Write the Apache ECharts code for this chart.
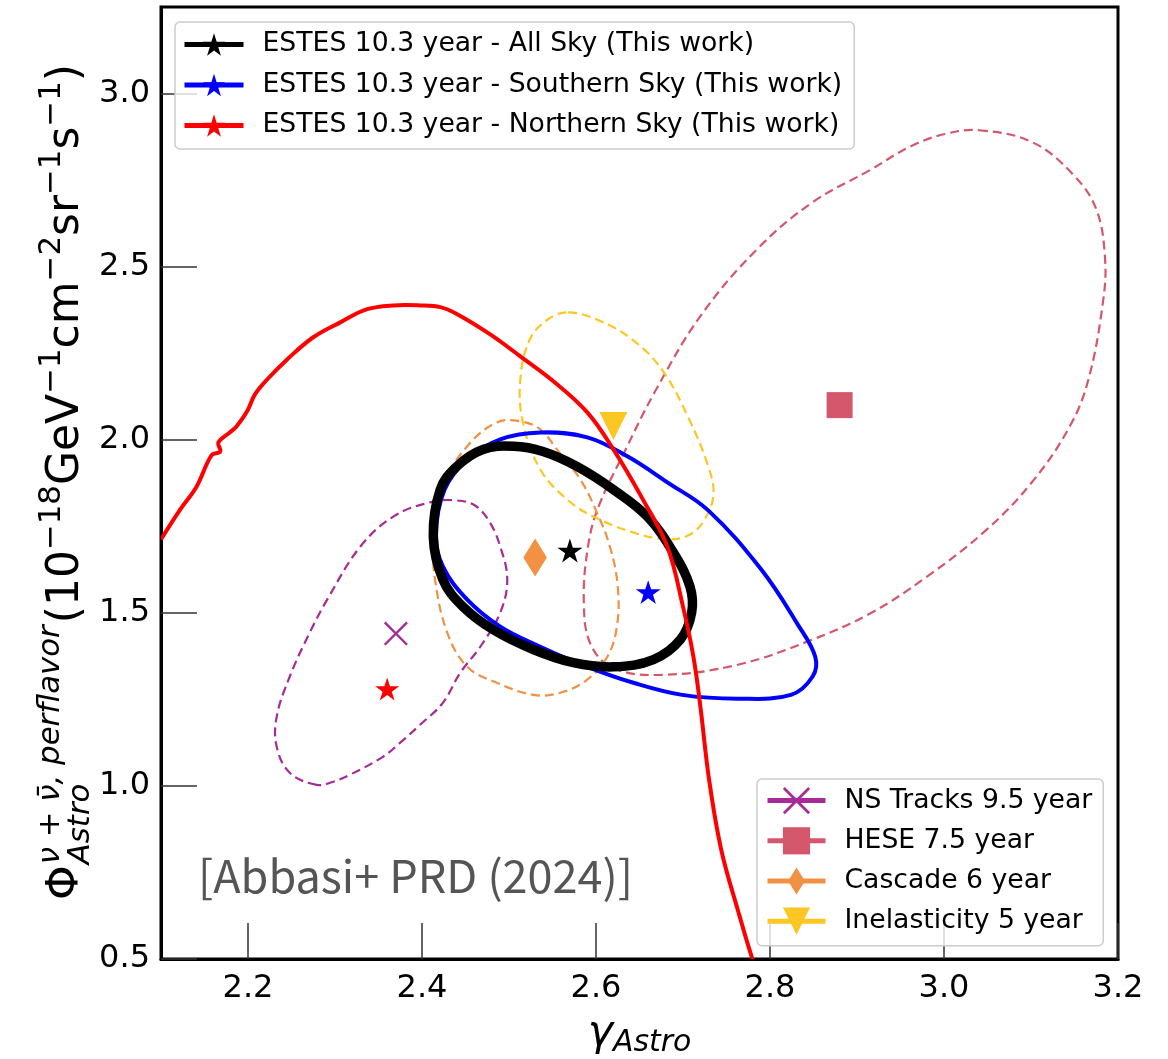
<!DOCTYPE html>
<html><head><meta charset="utf-8">
<script src="https://cdn.jsdelivr.net/npm/echarts@6/dist/echarts.min.js"></script>
<style>html,body{margin:0;padding:0;background:#fff}#c{width:1168px;height:1059px}</style>
</head><body><div id="c"></div>
<script>
// ---------- data ----------
const xTicks = [2.2, 2.4, 2.6, 2.8, 3.0, 3.2];
const yTicks = [0.5, 1.0, 1.5, 2.0, 2.5, 3.0];

const nameAll = 'ESTES 10.3 year - All Sky (This work)';
const nameSouth = 'ESTES 10.3 year - Southern Sky (This work)';
const nameNorth = 'ESTES 10.3 year - Northern Sky (This work)';
const nameNS = 'NS Tracks 9.5 year';
const nameHESE = 'HESE 7.5 year';
const nameCascade = 'Cascade 6 year';
const nameInel = 'Inelasticity 5 year';

const allSkyContour = [[2.413,1.720],[2.421,1.856],[2.440,1.923],[2.470,1.972],[2.505,1.981],[2.539,1.966],[2.578,1.923],[2.620,1.856],[2.659,1.778],[2.689,1.674],[2.708,1.576],[2.710,1.501],[2.697,1.423],[2.666,1.365],[2.620,1.344],[2.574,1.356],[2.528,1.394],[2.482,1.451],[2.447,1.518],[2.424,1.596]];
const southernContour = [[2.416,1.726],[2.426,1.856],[2.452,1.943],[2.490,2.001],[2.536,2.021],[2.590,2.007],[2.636,1.952],[2.682,1.877],[2.729,1.796],[2.790,1.625],[2.832,1.466],[2.852,1.373],[2.849,1.316],[2.824,1.263],[2.763,1.252],[2.699,1.263],[2.643,1.298],[2.590,1.344],[2.536,1.402],[2.490,1.460],[2.452,1.538],[2.424,1.634]];
const northernCurve = [[2.100,1.712],[2.122,1.798],[2.141,1.865],[2.158,1.955],[2.168,1.966],[2.166,1.992],[2.179,2.021],[2.187,2.039],[2.199,2.082],[2.208,2.131],[2.222,2.174],[2.245,2.232],[2.275,2.296],[2.306,2.339],[2.337,2.377],[2.367,2.388],[2.398,2.388],[2.421,2.383],[2.441,2.362],[2.478,2.305],[2.513,2.241],[2.551,2.169],[2.590,2.079],[2.620,1.972],[2.654,1.827],[2.682,1.691],[2.700,1.518],[2.712,1.373],[2.720,1.229],[2.730,1.018],[2.744,0.815],[2.764,0.633],[2.779,0.506],[2.783,0.483]];
const nsContour = [[2.279,1.003],[2.248,1.038],[2.233,1.113],[2.233,1.200],[2.248,1.316],[2.271,1.443],[2.291,1.538],[2.329,1.691],[2.367,1.778],[2.409,1.819],[2.438,1.825],[2.461,1.810],[2.478,1.761],[2.490,1.691],[2.498,1.596],[2.490,1.501],[2.467,1.402],[2.444,1.327],[2.424,1.240],[2.398,1.177],[2.375,1.125],[2.355,1.084],[2.317,1.032],[2.298,1.012]];
const cascadeContour = [[2.413,1.712],[2.421,1.856],[2.452,1.981],[2.486,2.050],[2.513,2.053],[2.536,2.030],[2.555,1.972],[2.582,1.885],[2.601,1.790],[2.616,1.691],[2.625,1.576],[2.624,1.460],[2.613,1.373],[2.590,1.307],[2.559,1.269],[2.528,1.263],[2.486,1.298],[2.452,1.344],[2.429,1.443],[2.415,1.596]];
const inelContour = [[2.568,2.368],[2.603,2.345],[2.643,2.287],[2.677,2.198],[2.707,2.059],[2.729,1.923],[2.735,1.842],[2.725,1.770],[2.708,1.726],[2.682,1.712],[2.643,1.732],[2.597,1.778],[2.567,1.827],[2.536,1.914],[2.516,2.050],[2.513,2.174],[2.524,2.290],[2.545,2.348]];
const heseContour = [[3.040,2.894],[3.101,2.860],[3.148,2.767],[3.175,2.666],[3.185,2.527],[3.183,2.403],[3.166,2.174],[3.144,2.036],[3.101,1.877],[3.048,1.738],[2.979,1.602],[2.915,1.498],[2.846,1.420],[2.763,1.350],[2.677,1.321],[2.621,1.339],[2.594,1.408],[2.586,1.532],[2.591,1.694],[2.603,1.807],[2.633,1.966],[2.668,2.140],[2.720,2.357],[2.785,2.550],[2.849,2.686],[2.915,2.779],[2.962,2.848],[3.001,2.883]];

const allSkyBest = [2.57, 1.68];
const southernBest = [2.66, 1.56];
const northernBest = [2.36, 1.28];
const nsBest = [2.37, 1.44];
const heseBest = [2.88, 2.10];
const cascadeBest = [2.53, 1.66];
const inelBest = [2.62, 2.04];

// ---------- styling ----------
const STAR = 'path://M0,-1L0.2245,-0.309L0.9511,-0.309L0.3633,0.118L0.5878,0.809L0,0.382L-0.5878,0.809L-0.3633,0.118L-0.9511,-0.309L-0.2245,-0.309Z';
const XMARK = 'path://M-1,-0.86L-0.86,-1L1,0.86L0.86,1Z M0.86,-1L1,-0.86L-0.86,1L-1,0.86Z';
const TRI_DOWN = 'path://M-1,-1L1,-1L0,1Z';
const THIN_DIAMOND = 'path://M0,-1L0.62,0L0,1L-0.62,0Z M-1,0L-1,0.001L-0.999,0Z M1,0L1,0.001L0.999,0Z';

const C_NS = '#a62a97', C_HESE = '#d5576b', C_CAS = '#f29044', C_INEL = '#fcc722';

// contour drawn as one smooth path through the axis scales (api.coord)
function contour(name, data, color, width, dash, loop, z) {
  return { type: 'custom', name: name, data: data, z: z, silent: true, animation: false, clip: true,
    encode: { x: 0, y: 1 },
    renderItem: function (params, api) {
      if (params.dataIndex !== 0) return null;
      const pts = data.map(p => api.coord(p));
      return { type: loop ? 'polygon' : 'polyline',
        shape: { points: pts, smooth: 0.38 },
        style: { fill: loop ? 'none' : null, stroke: color, lineWidth: width, lineDash: dash, lineJoin: 'round' } };
    } };
}
// best-fit marker (a one-point line series so the legend shows line + marker)
function point(name, p, color, symbol, size) {
  return { type: 'line', name: name, data: [p], symbol: symbol, symbolSize: size, symbolKeepAspect: true,
    showSymbol: true, color: color, itemStyle: { color: color, opacity: 1 },
    lineStyle: { color: color, width: 5 }, z: 6, silent: true, animation: false };
}

const series = [
  point(nameAll, allSkyBest, '#000000', STAR, 25),
  point(nameSouth, southernBest, '#0000ff', STAR, 25),
  point(nameNorth, northernBest, '#ff0000', STAR, 24),
  point(nameNS, nsBest, C_NS, XMARK, 24),
  point(nameHESE, heseBest, C_HESE, 'rect', 26),
  point(nameCascade, cascadeBest, C_CAS, THIN_DIAMOND, 38),
  point(nameInel, inelBest, C_INEL, TRI_DOWN, 28),
  contour(nameNS, nsContour, C_NS, 2.2, [9, 5], true, 2),
  contour(nameHESE, heseContour, C_HESE, 2.2, [9, 5], true, 2),
  contour(nameCascade, cascadeContour, C_CAS, 2.2, [9, 5], true, 2),
  contour(nameInel, inelContour, C_INEL, 2.2, [9, 5], true, 2),
  contour(nameSouth, southernContour, '#0000ff', 4, null, true, 3),
  contour(nameAll, allSkyContour, '#000000', 9.5, null, true, 3),
  contour(nameNorth, northernCurve, '#ff0000', 4, null, false, 3)
];

// ---------- axis titles built from measured text pieces ----------
const mctx = document.createElement('canvas').getContext('2d');
function textW(t, size, italic) { mctx.font = (italic ? 'italic ' : '') + size + 'px "DejaVu Sans"'; return mctx.measureText(t).width; }
const KB = 0.33;
function tEl(t, x, baseline, size, italic) {
  return { type: 'text', x: x, y: baseline - KB * size, silent: true,
    style: { text: t, fontSize: size, fontFamily: 'DejaVu Sans', fontStyle: italic ? 'italic' : 'normal', fill: '#000',
      textAlign: 'left', textVerticalAlign: 'middle', align: 'left', verticalAlign: 'middle' } };
}
const FY = 44, SY = FY * 0.7;
const yParts = [];
let cx = 0;
yParts.push(tEl('Φ', cx, 0, FY, false)); cx += textW('Φ', FY, false) + 1;
const supT = 'ν + ν̄, perflavor', subT = 'Astro';
yParts.push(tEl(supT, cx, -0.44 * FY, SY, true));
yParts.push(tEl(subT, cx, 0.22 * FY, SY, true));
cx += Math.max(textW(supT, SY, true), textW(subT, SY, true)) + 2;
const seq = [['(10', 'n'], ['−18', 's'], ['GeV', 'n'], ['−1', 's'], ['cm', 'n'], ['−2', 's'], ['sr', 'n'], ['−1', 's'], ['s', 'n'], ['−1', 's'], [')', 'n']];
for (const [t, k] of seq) {
  const sz = k === 'n' ? FY : SY;
  yParts.push(tEl(t, cx, k === 'n' ? 0 : -0.42 * FY, sz, false));
  cx += textW(t, sz, false);
}
const yLen = cx;
const FX = 42.7, SX = FX * 0.7;
const gW = textW('γ', FX, true), aW = textW('Astro', SX, true);
const gx0 = 639.5 - (gW + aW) / 2;

const graphic = [
  { type: 'group', x: 81, y: 482 + yLen / 2, rotation: Math.PI / 2, children: yParts, silent: true },
  tEl('γ', gx0, 1048, FX, true),
  tEl('Astro', gx0 + gW, 1053, SX, true),
  { type: 'text', x: 198, y: 892 - 0.36 * 45, silent: true, z: 10,
    style: { text: '[Abbasi+ PRD (2024)]', fontSize: 45, fontWeight: 'normal', fontFamily: 'Noto Sans CJK JP', fill: '#555555',
      textAlign: 'left', textVerticalAlign: 'middle', align: 'left', verticalAlign: 'middle' } }
];

const legendText = { fontFamily: 'DejaVu Sans', fontSize: 26.67, color: '#000', padding: [0, 0, 0, 14] };
const option = {
  animation: false,
  backgroundColor: '#ffffff',
  grid: { left: 161, right: 50, top: 7, bottom: 100, show: true, borderColor: '#000', borderWidth: 3,
    backgroundColor: 'transparent', containLabel: false, outerBoundsMode: 'none' },
  xAxis: { type: 'value', min: 2.1, max: 3.2,
    axisLine: { show: true, onZero: false, lineStyle: { color: '#000', width: 3 } },
    axisTick: { show: true, inside: true, length: 36, customValues: xTicks, lineStyle: { color: '#333', width: 1.5 } },
    axisLabel: { customValues: xTicks, margin: 14, fontSize: 32, fontFamily: 'DejaVu Sans', color: '#000',
      formatter: v => v.toFixed(1) },
    splitLine: { show: false } },
  yAxis: { type: 'value', min: 0.5, max: 3.25,
    axisLine: { show: true, onZero: false, lineStyle: { color: '#000', width: 3 } },
    axisTick: { show: true, inside: true, length: 36, customValues: yTicks, lineStyle: { color: '#333', width: 1.5 } },
    axisLabel: { customValues: yTicks, margin: 11, fontSize: 32, fontFamily: 'DejaVu Sans', color: '#000',
      formatter: v => v.toFixed(1) },
    splitLine: { show: false } },
  legend: [
    { data: [nameAll, nameSouth, nameNorth], orient: 'vertical', left: 175, top: 22,
      itemWidth: 59, itemHeight: 28, itemGap: 13.5, padding: [9, 12, 10, 7],
      backgroundColor: 'rgba(255,255,255,0.8)', borderColor: '#cccccc', borderWidth: 1.5, borderRadius: 5,
      textStyle: legendText, selectedMode: false, lineStyle: { width: 5, type: 'solid' }, z: 4 },
    { data: [nameNS, nameHESE, nameCascade, nameInel], orient: 'vertical', left: 757, top: 779,
      itemWidth: 58, itemHeight: 34, itemGap: 13, padding: [8, 11, 11, 8],
      backgroundColor: 'rgba(255,255,255,0.8)', borderColor: '#cccccc', borderWidth: 1.5, borderRadius: 5,
      textStyle: legendText, selectedMode: false, lineStyle: { width: 5, type: 'solid' }, z: 4 }
  ],
  graphic: graphic,
  series: series
};
const chart = echarts.init(document.getElementById('c'), null, { renderer: 'canvas', width: 1168, height: 1059 });
chart.setOption(option);
</script>
</body></html>
